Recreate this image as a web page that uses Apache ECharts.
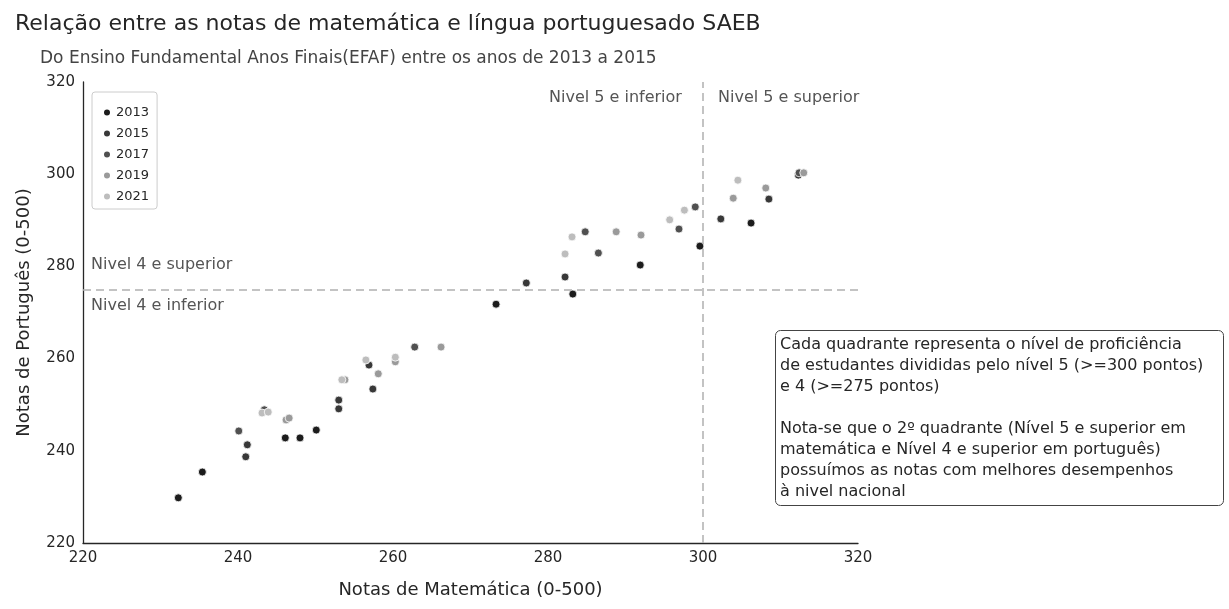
<!DOCTYPE html><html><head><meta charset="utf-8"><script src="https://cdn.jsdelivr.net/npm/echarts@6/dist/echarts.min.js"></script></head><body style="margin:0"><div id="c" style="width:1229px;height:609px"></div><script>
const years=['2013','2015','2017','2019','2021'];
const colors=['#1c1c1c','#383838','#505050','#9a9a9a','#bdbdbd'];
const d2013=[[232.3,229.8],[235.4,235.4],[246.1,242.8],[248.0,242.8],[250.1,244.5],[273.3,271.8],[283.2,274.0],[291.9,280.3],[299.6,284.4],[306.2,289.4]];
const d2015=[[241.2,241.3],[241.0,238.7],[253.0,251.0],[253.0,249.1],[256.9,258.6],[257.4,253.4],[277.2,276.4],[282.2,277.7],[302.3,290.3],[308.5,294.6],[312.3,299.8]];
const d2017=[[240.1,244.3],[243.4,248.9],[262.8,262.5],[284.8,287.5],[286.5,282.9],[296.9,288.1],[299.0,292.9],[312.4,300.3]];
const d2019=[[246.2,246.7],[246.6,247.1],[253.8,255.4],[258.1,256.7],[260.3,259.3],[266.2,262.5],[288.8,287.5],[292.0,286.8],[303.9,294.8],[308.1,297.0],[313.0,300.3]];
const d2021=[[243.1,248.2],[243.9,248.4],[253.4,255.4],[256.5,259.7],[260.3,260.3],[282.2,282.7],[283.1,286.4],[295.7,290.1],[297.6,292.2],[304.5,298.7]];
const all=[d2013,d2015,d2017,d2019,d2021];
const F='DejaVu Sans';
const c=echarts.init(document.getElementById('c'));
const series=all.map((d,i)=>({name:years[i],type:'scatter',data:d,symbolSize:8,itemStyle:{color:colors[i],borderColor:'#fff',borderWidth:0.8,opacity:1}}));
series[0].markLine={silent:true,symbol:'none',lineStyle:{color:'#b0b0b0',type:[8,5],width:1.5},label:{show:false},data:[{xAxis:300},{yAxis:275}]};
c.setOption({animation:false,textStyle:{fontFamily:F},
title:[{text:'Relação entre as notas de matemática e língua portuguesado SAEB',left:10,top:8,textStyle:{fontSize:22,fontWeight:'normal',color:'#262626',fontFamily:F}},
{text:'Do Ensino Fundamental Anos Finais(EFAF) entre os anos de 2013 a 2015',left:35,top:45,textStyle:{fontSize:17,fontWeight:'normal',color:'#444',fontFamily:F}}],
legend:{orient:'vertical',left:92,top:92,itemWidth:8,itemHeight:8,itemGap:8,icon:'circle',padding:[14,8,6,10],borderColor:'#ccc',borderWidth:1,borderRadius:3,backgroundColor:'#fff',textStyle:{fontSize:13,color:'#262626'},data:years},
grid:{left:83,right:371,top:82,bottom:66},
xAxis:{min:220,max:320,interval:20,name:'Notas de Matemática (0-500)',nameLocation:'middle',nameGap:38,nameTextStyle:{fontSize:18,color:'#262626'},axisLine:{lineStyle:{color:'#262626',width:1.3}},axisTick:{show:false},axisLabel:{fontSize:15,color:'#262626'},splitLine:{show:false}},
yAxis:{min:220,max:320,interval:20,name:'Notas de Português (0-500)',nameLocation:'middle',nameGap:50,nameTextStyle:{fontSize:18,color:'#262626'},axisLine:{show:true,lineStyle:{color:'#262626',width:1.3}},axisTick:{show:false},axisLabel:{fontSize:15,color:'#262626'},splitLine:{show:false}},
graphic:[
{type:'text',left:119,top:94,style:{text:'Ano',fontSize:12,fill:'#262626',fontFamily:F}},
{type:'text',left:549,top:90,style:{text:'Nivel 5 e inferior',fontSize:16,fill:'#555',fontFamily:F}},
{type:'text',left:718,top:90,style:{text:'Nivel 5 e superior',fontSize:16,fill:'#555',fontFamily:F}},
{type:'text',left:91,top:257,style:{text:'Nivel 4 e superior',fontSize:16,fill:'#555',fontFamily:F}},
{type:'text',left:91,top:298,style:{text:'Nivel 4 e inferior',fontSize:16,fill:'#555',fontFamily:F}},
{type:'rect',left:775,top:330,shape:{width:448,height:175,r:5},style:{fill:'#fff',stroke:'#444',lineWidth:1}},
{type:'text',left:780,top:334,style:{text:'Cada quadrante representa o nível de proficiência\nde estudantes divididas pelo nível 5 (>=300 pontos)\ne 4 (>=275 pontos)\n\nNota-se que o 2º quadrante (Nível 5 e superior em\nmatemática e Nível 4 e superior em português)\npossuímos as notas com melhores desempenhos\nà nivel nacional',fontSize:16,lineHeight:21,fill:'#262626',fontFamily:F}}
],
series});
</script></body></html>
